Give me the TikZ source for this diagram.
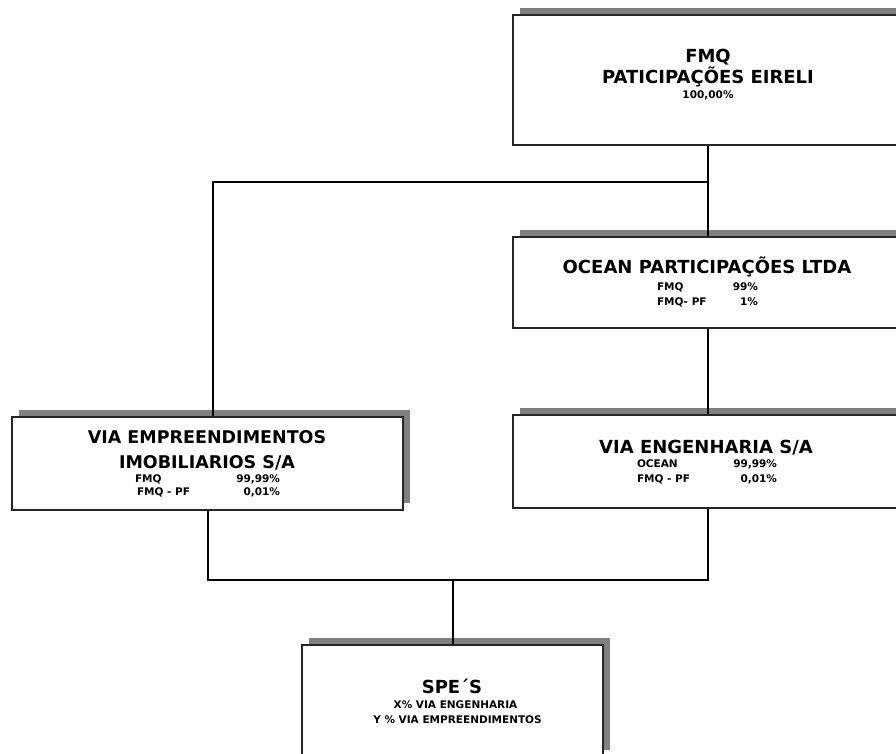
\documentclass[tikz,border=0pt]{standalone}
\usepackage{fontspec}
\setmainfont{DejaVu Sans}
\usetikzlibrary{shadows}
\begin{document}
\begin{tikzpicture}[x=1pt,y=-1pt,
  box/.style={draw=black!85, line width=1.6pt, fill=white, inner sep=0pt,
    drop shadow={shadow xshift=7pt, shadow yshift=7pt, fill=black!50, opacity=1}},
  big/.style={anchor=base, inner sep=0pt, font=\bfseries\fontsize{18}{21}\selectfont},
  small/.style={anchor=base, inner sep=0pt, font=\bfseries\fontsize{10.5}{15}\selectfont},
  conn/.style={draw=black, line width=2pt, line join=miter},
]
\useasboundingbox (0,0) rectangle (896,753);
\clip (0,0) rectangle (896,753);

% boxes
\node[box, minimum width=390pt, minimum height=130pt] (fmq) at (708,80) {};
\node[box, minimum width=390pt, minimum height=91pt] (ocean) at (708,282.5) {};
\node[box, minimum width=391pt, minimum height=93pt] (viaemp) at (207.5,463.5) {};
\node[box, minimum width=390pt, minimum height=93pt] (viaeng) at (708,461.5) {};
\node[box, minimum width=301pt, minimum height=112pt] (spe) at (452.5,701) {};

% texts
\node[big] (fmq1) at (708,62) {FMQ};
\node[big] (fmq2) at (708,83) {PATICIPAÇÕES EIRELI};
\node[small] (fmq3) at (708,98) {100,00\%};

\node[big] (oc1) at (707,273) {OCEAN PARTICIPAÇÕES LTDA};
\node[small] (oc2) at (707.5,290) {\makebox[101pt]{FMQ\hfill 99\%}};
\node[small] (oc3) at (707.5,305) {\makebox[101pt]{FMQ- PF\hfill 1\%}};

\node[big, font=\bfseries\fontsize{17.5}{21}\selectfont] (ve1) at (207,443) {VIA EMPREENDIMENTOS};
\node[big, font=\bfseries\fontsize{17.5}{21}\selectfont] (ve2) at (207,468) {IMOBILIARIOS S/A};
\node[small] (ve3) at (207.5,482) {\makebox[145pt]{FMQ\hfill 99,99\%}};
\node[small] (ve4) at (208.5,495) {\makebox[143pt]{FMQ - PF\hfill 0,01\%}};

\node[big] (vg1) at (706,453) {VIA ENGENHARIA S/A};
\node[small] (vg2) at (707,467) {\makebox[140pt]{OCEAN\hfill 99,99\%}};
\node[small] (vg3) at (707,482) {\makebox[140pt]{FMQ - PF\hfill 0,01\%}};

\node[big] (sp1) at (452,693) {SPE´S};
\node[small] (sp2) at (455.5,708) {X\% VIA ENGENHARIA};
\node[small] (sp3) at (457.5,723) {Y \% VIA EMPREENDIMENTOS};

% connectors
\coordinate (j1r) at (708,182);
\coordinate (j1l) at (213,182);
\coordinate (j2) at (0,580);

\draw[conn] (fmq.south) -- (ocean.north);
\draw[conn] (j1r) -- (j1l) -- (j1l |- viaemp.north);
\draw[conn] (ocean.south) -- (viaeng.north);
\draw[conn] (viaemp.south) -- (viaemp.south |- j2) -- (viaeng.south |- j2) -- (viaeng.south);
\draw[conn] (spe.north |- j2) -- (spe.north);
\end{tikzpicture}
\end{document}
